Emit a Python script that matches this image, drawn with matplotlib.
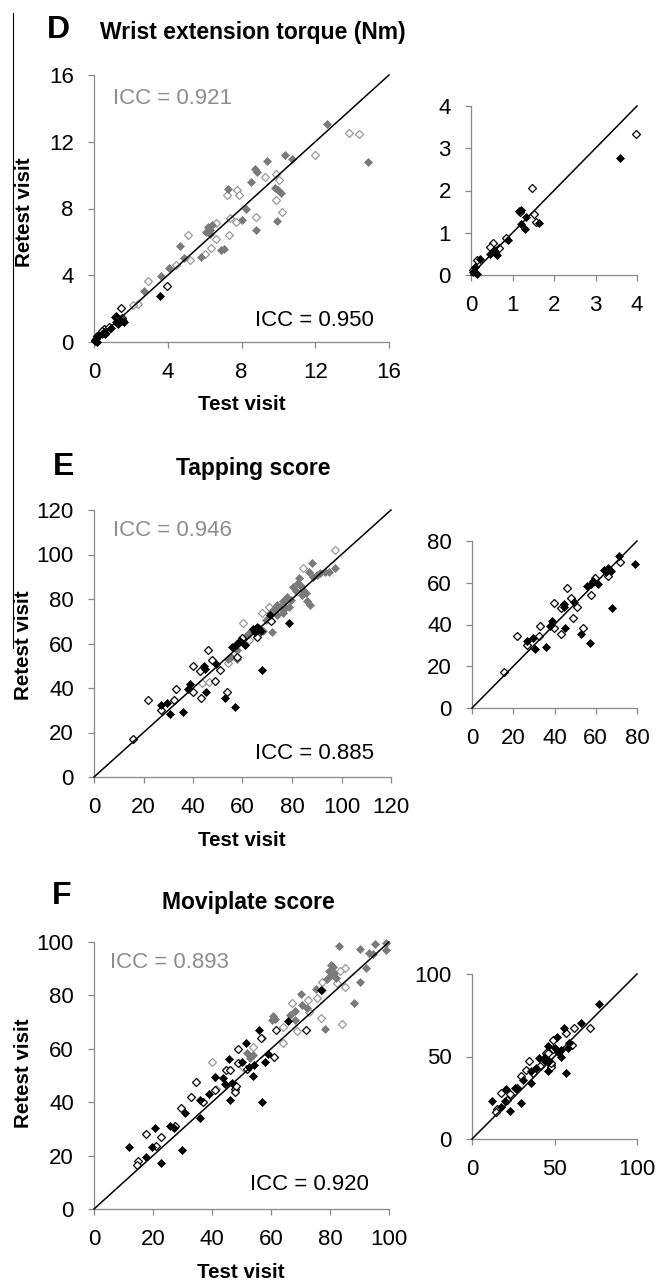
import matplotlib
matplotlib.use("Agg")
import matplotlib.pyplot as plt
from matplotlib.lines import Line2D

plt.rcParams['font.family'] = ['Liberation Sans', 'DejaVu Sans']

W, H = 657, 1283

# ---------------- Panel D: Wrist extension torque (Nm) ----------------
d_bf_x = [3.6, 1.16, 1.21, 1.29, 1.33, 1.63, 0.9, 0.46, 0.58, 0.62, 0.22, 0.10, 0.14, 0.06, 1.20, 0.55]
d_bf_y = [2.78, 1.51, 1.21, 1.08, 1.38, 1.22, 0.83, 0.49, 0.51, 0.47, 0.37, 0.20, 0.02, 0.08, 1.53, 0.60]
d_bo_x = [3.98, 1.48, 1.53, 1.57, 0.52, 0.46, 0.68, 0.84, 0.14, 0.04, 1.18]
d_bo_y = [3.34, 2.05, 1.44, 1.26, 0.75, 0.67, 0.63, 0.87, 0.36, 0.12, 1.48]
d_gf_x = [12.66, 14.86, 10.34, 10.76, 9.39, 8.75, 8.86, 8.54, 7.27, 9.8, 9.98, 10.13, 8.23, 8.05,
          9.93, 8.81, 6.1, 6.2, 6.3, 6.4, 6.3, 6.9, 7.05, 5.79, 4.86, 4.65, 4.05, 3.65, 2.69]
d_gf_y = [13.05, 10.78, 11.2, 10.96, 10.82, 10.36, 10.16, 9.56, 9.16, 9.2, 9.12, 8.92, 7.98, 7.29,
          7.23, 6.73, 6.6, 6.9, 6.7, 7.0, 6.5, 5.53, 5.57, 5.07, 5.03, 5.73, 4.43, 3.93, 3.07]
d_go_x = [13.83, 14.36, 11.97, 9.3, 9.86, 10.04, 9.86, 10.22, 8.81, 7.23, 7.76, 7.87, 7.36, 7.69,
          7.32, 6.6, 6.64, 6.37, 6.0, 5.1, 5.19, 4.43, 2.93, 2.39, 2.1]
d_go_y = [12.55, 12.45, 11.22, 9.86, 10.08, 9.72, 8.52, 7.78, 7.49, 8.82, 9.08, 8.78, 7.41, 7.17,
          6.41, 7.13, 6.17, 5.63, 5.29, 6.43, 4.93, 4.63, 3.67, 2.3, 2.24]

# ---------------- Panel E: Tapping score ----------------
e_bf_x = [78.9, 71.1, 67.9, 67.6, 66.0, 64.1, 61.2, 57.9, 55.9, 58.8, 57.0, 52.8, 49.4, 44.6, 45.1,
          38.8, 37.8, 35.9, 30.6, 29.5, 26.9, 44.8, 65.0]
e_bf_y = [69.2, 72.8, 48.0, 65.5, 67.3, 66.3, 59.3, 59.6, 58.4, 60.9, 31.3, 35.5, 50.9, 49.8, 38.2,
          41.7, 39.4, 29.1, 28.3, 33.4, 32.3, 48.5, 65.0]
e_bo_x = [71.6, 66.0, 59.6, 57.9, 53.9, 51.0, 48.8, 47.8, 45.9, 43.0, 43.1, 39.8, 39.9, 33.0, 32.5,
          26.9, 21.7, 15.6]
e_bo_y = [70.0, 63.1, 62.5, 54.1, 38.2, 48.2, 43.3, 52.5, 57.3, 47.7, 35.3, 50.1, 38.2, 39.4, 34.7,
          30.2, 34.5, 17.2]
e_gf_x = [97.2, 88.0, 86.7, 91.5, 93.5, 95.0, 83.0, 82.3, 80.6, 84.6, 84.0, 86.0, 87.1, 77.9, 76.5,
          77.2, 78.6, 76.5, 75.2, 73.2, 71.8, 68.4, 63.7, 65.0, 61.0, 59.5, 57.6, 57.6, 54.3, 57.9,
          55.5, 83.5, 85.5, 79.5, 74.0, 69.5, 66.5, 62.5, 81.5, 88.5, 90.0, 72.4, 73.8, 71.1]
e_gf_y = [94.1, 96.1, 92.3, 91.9, 92.3, 92.0, 89.3, 87.1, 85.6, 84.1, 81.9, 78.9, 77.1, 81.1, 78.9,
          75.9, 76.6, 73.6, 76.6, 75.4, 65.1, 65.4, 66.1, 65.8, 63.1, 61.5, 57.2, 60.2, 53.0, 52.9,
          54.0, 86.0, 82.5, 79.5, 73.0, 70.5, 67.0, 64.5, 83.5, 90.0, 91.0, 75.1, 77.3, 73.6]
e_go_x = [97.2, 84.6, 70.9, 67.8, 60.1, 54.3, 46.6, 43.5, 62.5, 74.5]
e_go_y = [102.0, 93.8, 76.3, 73.9, 69.1, 51.2, 42.8, 42.1, 61.5, 76.0]

# ---------------- Panel F: Moviplate score ----------------
f_bf_x = [11.9, 20.6, 19.8, 22.8, 17.7, 25.9, 27.0, 29.8, 30.7, 35.8, 36.0, 38.9, 40.9, 43.7, 45.8,
          46.0, 46.8, 51.6, 50.2, 53.9, 54.2, 55.9, 58.1, 59.0, 56.9, 65.8, 76.8, 44.5, 52.5]
f_bf_y = [23.1, 30.2, 23.3, 17.1, 19.3, 31.0, 30.2, 22.1, 35.8, 33.9, 41.0, 42.9, 49.3, 48.9, 56.1,
          41.0, 47.3, 62.0, 55.1, 49.8, 53.9, 67.2, 54.9, 58.2, 39.9, 70.3, 81.9, 47.0, 53.0]
f_bo_x = [14.9, 14.6, 17.7, 22.8, 21.0, 29.6, 32.8, 34.7, 37.1, 44.9, 46.0, 48.8, 48.8, 47.9, 47.7,
          48.0, 56.7, 61.6, 60.9, 71.8, 27.5, 41.0, 52.0]
f_bo_y = [18.0, 16.5, 28.1, 27.1, 23.5, 38.0, 42.0, 47.4, 39.9, 52.2, 52.2, 60.1, 54.5, 44.8, 43.9,
          46.0, 64.1, 67.0, 57.0, 67.1, 31.0, 44.5, 52.5]
f_gf_x = [83.2, 90.2, 95.3, 99.0, 93.3, 99.0, 92.1, 90.2, 88.1, 80.3, 79.5, 80.5, 81.5, 79.0, 77.2,
          75.3, 70.0, 70.4, 72.1, 68.1, 66.4, 60.6, 60.2, 78.3, 68.1, 54.0, 51.8, 52.9, 41.0, 94.5,
          81.0, 82.0, 61.5]
f_gf_y = [98.5, 97.3, 99.3, 99.7, 96.0, 97.0, 90.1, 85.1, 77.3, 91.4, 89.0, 87.5, 88.5, 86.0, 82.0,
          82.3, 80.5, 76.4, 75.2, 74.3, 72.7, 72.3, 70.8, 67.3, 70.8, 57.7, 58.3, 56.6, 49.6, 95.5,
          90.5, 86.5, 71.0]
f_go_x = [85.2, 83.4, 85.2, 77.2, 82.3, 75.5, 72.7, 67.0, 72.9, 76.9, 84.0, 68.9, 64.2, 64.2, 56.8,
          54.0, 40.0, 41.5, 50.5]
f_go_y = [90.1, 89.3, 83.3, 85.1, 84.5, 78.9, 78.3, 77.3, 73.9, 71.4, 69.2, 66.6, 68.1, 62.1, 63.9,
          60.6, 55.1, 45.0, 53.0]

# axis setups
d_main_max, d_main_ticks = 16, [0, 4, 8, 12, 16]
d_in_max, d_in_ticks = 4, [0, 1, 2, 3, 4]
e_main_max, e_main_ticks = 120, [0, 20, 40, 60, 80, 100, 120]
e_in_max, e_in_ticks = 80, [0, 20, 40, 60, 80]
f_main_max, f_main_ticks = 100, [0, 20, 40, 60, 80, 100]
f_in_max, f_in_ticks = 100, [0, 50, 100]

titles = ["Wrist extension torque (Nm)", "Tapping score", "Moviplate score"]
letters = ["D", "E", "F"]
icc_gray = ["ICC = 0.921", "ICC = 0.946", "ICC = 0.893"]
icc_black = ["ICC = 0.950", "ICC = 0.885", "ICC = 0.920"]

GRAY_F = '#7a7a7a'
GRAY_O = '#999999'
SPINE = '#888888'
MS = 4.3
MEW = 0.9

fig = plt.figure(figsize=(W / 100, H / 100), dpi=100)


def px_ax(x0, y0, x1, y1):
    return [x0 / W, 1 - y1 / H, (x1 - x0) / W, (y1 - y0) / H]


def ftext(x, y, s, **kw):
    fig.text(x / W, 1 - y / H, s, **kw)


def style(ax, mx, ticks):
    ax.set_xlim(0, mx)
    ax.set_ylim(0, mx)
    ax.set_xticks(ticks)
    ax.set_yticks(ticks)
    for s in ['top', 'right']:
        ax.spines[s].set_visible(False)
    for s in ['left', 'bottom']:
        ax.spines[s].set_color(SPINE)
        ax.spines[s].set_linewidth(0.9)
    ax.tick_params(direction='out', length=4, width=0.9, color=SPINE,
                   labelsize=16, labelcolor='black', pad=10.5)
    ax.plot([0, mx], [0, mx], color='black', lw=1.1, zorder=5, clip_on=False)


def pts(ax, x, y, filled, color):
    if filled:
        ax.plot(x, y, 'D', ms=MS, mfc=color, mec=color, mew=0.5, ls='none',
                clip_on=False, zorder=3)
    else:
        ax.plot(x, y, 'D', ms=MS, mfc='white', mec=color, mew=MEW, ls='none',
                clip_on=False, zorder=3)


panels = [
    dict(main=px_ax(94, 75, 389, 342), inset=px_ax(471, 106, 637, 275),
         mmax=d_main_max, mt=d_main_ticks, imax=d_in_max, it=d_in_ticks,
         bf=(d_bf_x, d_bf_y), bo=(d_bo_x, d_bo_y), gf=(d_gf_x, d_gf_y), go=(d_go_x, d_go_y),
         letter=(58, 30), title=(253, 32), ylab=(25, 212), xlab=(242, 405),
         iccg=(113, 98), iccb=(255, 320)),
    dict(main=px_ax(94, 510, 391, 777), inset=px_ax(472, 541, 637, 708),
         mmax=e_main_max, mt=e_main_ticks, imax=e_in_max, it=e_in_ticks,
         bf=(e_bf_x, e_bf_y), bo=(e_bo_x, e_bo_y), gf=(e_gf_x, e_gf_y), go=(e_go_x, e_go_y),
         letter=(64, 467), title=(253, 468), ylab=(24, 645), xlab=(242, 841),
         iccg=(113, 531), iccb=(255, 754)),
    dict(main=px_ax(94, 942, 389, 1209), inset=px_ax(472, 974, 637, 1139),
         mmax=f_main_max, mt=f_main_ticks, imax=f_in_max, it=f_in_ticks,
         bf=(f_bf_x, f_bf_y), bo=(f_bo_x, f_bo_y), gf=(f_gf_x, f_gf_y), go=(f_go_x, f_go_y),
         letter=(62, 896), title=(248, 903), ylab=(24, 1073), xlab=(241, 1272),
         iccg=(110, 963), iccb=(250, 1185)),
]

for i, p in enumerate(panels):
    ax = fig.add_axes(p['main'])
    style(ax, p['mmax'], p['mt'])
    pts(ax, *p['go'], False, GRAY_O)
    pts(ax, *p['gf'], True, GRAY_F)
    pts(ax, *p['bo'], False, 'black')
    pts(ax, *p['bf'], True, 'black')

    axi = fig.add_axes(p['inset'])
    style(axi, p['imax'], p['it'])
    pts(axi, *p['bo'], False, 'black')
    pts(axi, *p['bf'], True, 'black')

    ftext(*p['letter'], letters[i], fontsize=23, fontweight='bold', ha='center', va='center')
    ftext(*p['title'], titles[i], fontsize=16.5, fontweight='bold', ha='center', va='center')
    ftext(*p['ylab'], "Retest visit", fontsize=14.8, fontweight='bold', ha='center', va='center',
          rotation=90)
    ftext(*p['xlab'], "Test visit", fontsize=14.8, fontweight='bold', ha='center', va='center')
    ftext(*p['iccg'], icc_gray[i], fontsize=16, color='#8c8c8c', ha='left', va='center')
    ftext(*p['iccb'], icc_black[i], fontsize=16, color='black', ha='left', va='center')

# thin vertical rule at the left edge
fig.add_artist(Line2D([13 / W, 13 / W], [1 - 13 / H, 1 - 648 / H], color='black', lw=0.8))

fig.savefig("out.png", dpi=100)
